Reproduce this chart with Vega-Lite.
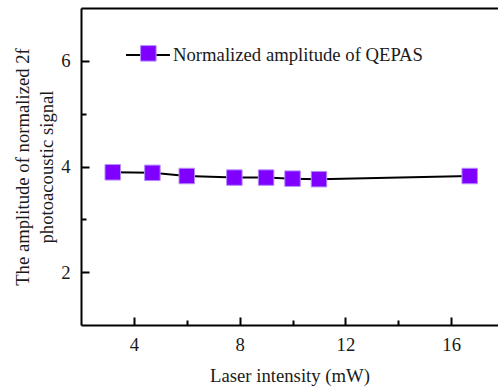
{
  "$schema": "https://vega.github.io/schema/vega-lite/v6.json",
  "width": 417,
  "height": 317,
  "autosize": {"type": "none"},
  "padding": {"left": 81, "top": 8, "right": 0, "bottom": 64},
  "background": "white",
  "config": {
    "view": {"stroke": null},
    "font": "Times New Roman",
    "legend": {"labelFont": "Times New Roman", "labelFontSize": 18.7, "labelColor": "#1a1a1a", "labelLimit": 400}
  },
  "data": {
    "values": [
      {"power": 3.2, "amp": 3.89, "series": "Normalized amplitude of QEPAS"},
      {"power": 4.7, "amp": 3.88, "series": "Normalized amplitude of QEPAS"},
      {"power": 6.0, "amp": 3.82, "series": "Normalized amplitude of QEPAS"},
      {"power": 7.8, "amp": 3.79, "series": "Normalized amplitude of QEPAS"},
      {"power": 9.0, "amp": 3.79, "series": "Normalized amplitude of QEPAS"},
      {"power": 10.0, "amp": 3.77, "series": "Normalized amplitude of QEPAS"},
      {"power": 11.0, "amp": 3.76, "series": "Normalized amplitude of QEPAS"},
      {"power": 16.7, "amp": 3.82, "series": "Normalized amplitude of QEPAS"}
    ]
  },
  "layer": [
    {
      "mark": {"type": "line", "strokeWidth": 2, "color": "black"},
      "encoding": {
        "x": {
          "field": "power", "type": "quantitative",
          "scale": {"domain": [2, 17.77], "nice": false, "zero": false},
          "axis": {
            "orient": "bottom",
            "title": "Laser intensity (mW)",
            "values": [4, 6, 8, 10, 12, 14, 16],
            "labelExpr": "datum.value % 4 === 0 ? datum.label : ''",
            "tickSize": {"condition": {"test": "datum.value % 4 === 0", "value": -8}, "value": -5},
            "tickColor": "black",
            "tickWidth": 2,
            "domainColor": "black",
            "domainWidth": 2,
            "grid": false,
            "labelFont": "Times New Roman",
            "titleFont": "Times New Roman",
            "labelFontSize": 18.7,
            "titleFontSize": 18.7,
            "titleFontWeight": "normal",
            "labelColor": "#1a1a1a",
            "titleColor": "#1a1a1a",
            "labelPadding": 18,
            "titlePadding": 10,
            "labelFlush": false,
            "labelOverlap": false
          }
        },
        "y": {
          "field": "amp", "type": "quantitative",
          "scale": {"domain": [1, 7], "nice": false, "zero": false},
          "axis": {
            "title": ["The amplitude of normalized 2f", "photoacoustic signal"],
            "values": [2, 3, 4, 5, 6],
            "labelExpr": "datum.value % 2 === 0 ? datum.label : ''",
            "tickSize": {"condition": {"test": "datum.value % 2 === 0", "value": -8}, "value": -5},
            "tickColor": "black",
            "tickWidth": 2,
            "domainColor": "black",
            "domainWidth": 2,
            "grid": false,
            "labelFont": "Times New Roman",
            "titleFont": "Times New Roman",
            "labelFontSize": 18.7,
            "titleFontSize": 18.7,
            "titleFontWeight": "normal",
            "labelColor": "#1a1a1a",
            "titleColor": "#1a1a1a",
            "labelPadding": 19,
            "titlePadding": 4,
            "titleLineHeight": 24,
            "labelOverlap": false
          }
        },
        "stroke": {
          "field": "series", "type": "nominal",
          "scale": {"range": ["black"]},
          "legend": {
            "orient": "none", "legendX": 44, "legendY": 24,
            "title": null,
            "symbolType": "stroke",
            "symbolSize": 1936,
            "symbolStrokeWidth": 2,
            "labelOffset": 2
          }
        }
      }
    },
    {
      "mark": {"type": "point", "shape": "square", "filled": true, "size": 240, "opacity": 1, "stroke": "#b48cff", "strokeWidth": 1},
      "encoding": {
        "x": {
          "field": "power", "type": "quantitative",
          "axis": {"orient": "top", "title": null, "labels": false, "ticks": false, "domain": true, "domainColor": "black", "domainWidth": 2, "grid": false}
        },
        "y": {"field": "amp", "type": "quantitative"},
        "fill": {
          "field": "series", "type": "nominal",
          "scale": {"range": ["#7f00ff"]},
          "legend": {
            "orient": "none", "legendX": 58, "legendY": 36,
            "title": null,
            "symbolType": "square",
            "symbolSize": 240,
            "symbolStrokeColor": "#b48cff",
            "symbolStrokeWidth": 1,
            "labelExpr": "''"
          }
        }
      }
    }
  ],
  "resolve": {"axis": {"x": "independent"}, "scale": {"stroke": "independent", "fill": "independent"}, "legend": {"stroke": "independent", "fill": "independent"}}
}
